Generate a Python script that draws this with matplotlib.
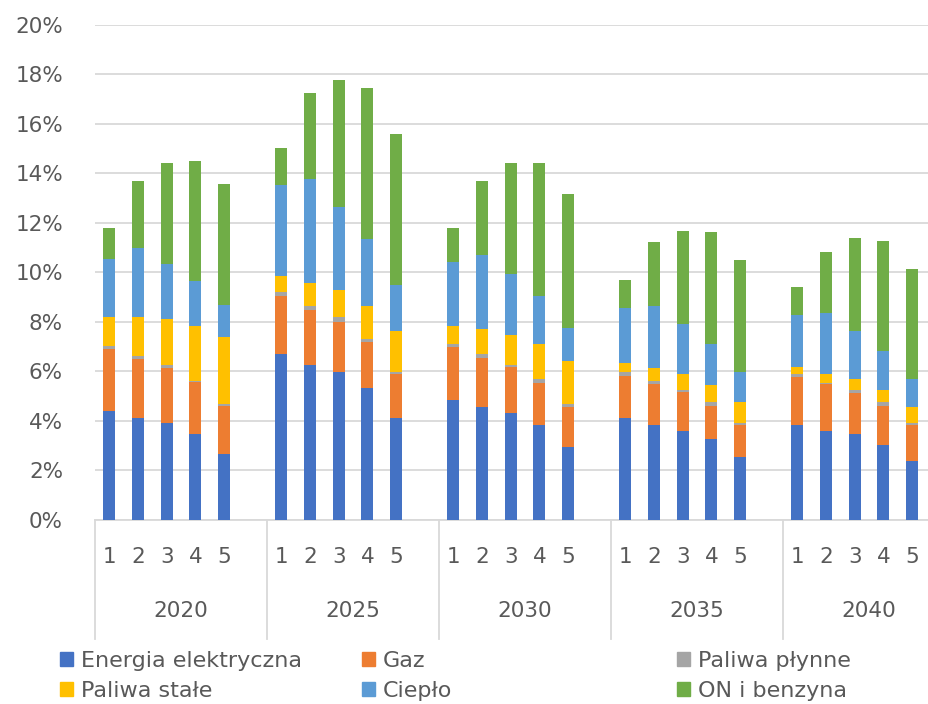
import matplotlib.pyplot as plt
from matplotlib.transforms import blended_transform_factory
from matplotlib.patches import Patch
import numpy as np

plt.rcParams['font.family'] = ['DejaVu Sans']

''' Data (values in %) '''
years = ['2020', '2025', '2030', '2035', '2040']
variants = ['1', '2', '3', '4', '5']

energia = [4.40, 4.11, 3.91, 3.46, 2.67,
           6.69, 6.26, 5.97, 5.33, 4.11,
           4.84, 4.55, 4.34, 3.83, 2.96,
           4.11, 3.83, 3.61, 3.26, 2.53,
           3.83, 3.61, 3.46, 3.03, 2.38]
gaz = [2.51, 2.38, 2.22, 2.10, 1.95,
       2.37, 2.22, 2.02, 1.86, 1.80,
       2.15, 2.01, 1.85, 1.72, 1.59,
       1.72, 1.65, 1.57, 1.36, 1.32,
       1.93, 1.88, 1.66, 1.59, 1.46]
paliwa_plynne = [0.13, 0.14, 0.13, 0.06, 0.08,
                 0.14, 0.15, 0.20, 0.14, 0.07,
                 0.13, 0.13, 0.09, 0.13, 0.14,
                 0.14, 0.14, 0.08, 0.13, 0.07,
                 0.14, 0.06, 0.13, 0.13, 0.07]
paliwa_stale = [1.16, 1.57, 1.88, 2.22, 2.71,
                0.66, 0.93, 1.09, 1.32, 1.64,
                0.73, 1.01, 1.19, 1.44, 1.72,
                0.36, 0.51, 0.64, 0.72, 0.83,
                0.29, 0.35, 0.43, 0.50, 0.64]
cieplo = [2.36, 2.80, 2.22, 1.80, 1.29,
          3.66, 4.23, 3.37, 2.70, 1.87,
          2.59, 3.01, 2.46, 1.94, 1.36,
          2.22, 2.50, 2.02, 1.65, 1.22,
          2.08, 2.45, 1.94, 1.58, 1.13]
on_benzyna = [1.22, 2.70, 4.06, 4.86, 4.88,
              1.50, 3.46, 5.13, 6.10, 6.09,
              1.34, 2.99, 4.49, 5.36, 5.40,
              1.16, 2.59, 3.76, 4.52, 4.52,
              1.14, 2.49, 3.77, 4.44, 4.45]

series = [('Energia elektryczna', energia, '#4472C4'),
          ('Gaz', gaz, '#ED7D31'),
          ('Paliwa płynne', paliwa_plynne, '#A5A5A5'),
          ('Paliwa stałe', paliwa_stale, '#FFC000'),
          ('Ciepło', cieplo, '#5B9BD5'),
          ('ON i benzyna', on_benzyna, '#70AD47')]

txt = '#595959'
grid = '#D9D9D9'

''' Positions: 5 bars + one empty slot per year '''
x = np.array([g * 6 + k for g in range(len(years)) for k in range(len(variants))])

fig = plt.figure(figsize=(9.29, 7.04), dpi=100)
ax = fig.add_axes([0.1023, 0.2614, 0.8977, 0.7031])

bottom = np.zeros(len(x))
for name, vals, col in series:
    ax.bar(x, vals, 0.42, bottom=bottom, color=col, label=name, zorder=3)
    bottom += np.array(vals)

ax.set_ylim(0, 20)
ax.set_xlim(-0.5, 28.59)
ax.set_yticks(np.arange(0, 21, 2))
ax.set_yticklabels(['%d%%' % v for v in range(0, 21, 2)])
ax.tick_params(axis='y', length=0, pad=23, labelsize=15.5, labelcolor=txt)
ax.set_xticks([])
ax.yaxis.grid(True, color=grid, lw=1.3, zorder=0)
for s in ['left', 'right', 'top']:
    ax.spines[s].set_visible(False)
ax.spines['bottom'].set_color(grid)
ax.spines['bottom'].set_linewidth(1.3)

''' Two-level category axis '''
tr = blended_transform_factory(ax.transData, ax.transAxes)
for xi, k in zip(x, variants * len(years)):
    ax.text(xi, -0.0757, k, transform=tr, ha='center', va='center',
            fontsize=15.5, color=txt)
for g, yr in enumerate(years):
    ax.text(g * 6 + 2.5, -0.1838, yr, transform=tr, ha='center', va='center',
            fontsize=15.5, color=txt)
    ax.plot([g * 6 - 0.5] * 2, [0, -0.24], transform=tr, color=grid,
            lw=1.3, clip_on=False)

''' Legend in three columns placed like the original '''
handles = [Patch(color=c) for _, _, c in series]
names = [n for n, _, _ in series]
cols = [(0, 3), (1, 4), (2, 5)]
xpos = [60, 362, 677]
for (i, j), xp in zip(cols, xpos):
    fig.legend([handles[i], handles[j]], [names[i], names[j]],
               loc='upper left', bbox_to_anchor=(xp / 929, 1 - 651 / 704),
               frameon=False, fontsize=16, labelcolor=txt,
               handlelength=0.6, handleheight=0.6, handletextpad=0.35,
               labelspacing=0.45, borderpad=0, borderaxespad=0)

plt.savefig('out.png', dpi=100)
